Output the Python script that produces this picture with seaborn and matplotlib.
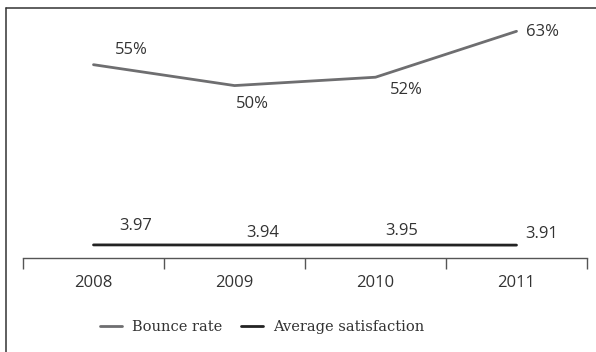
import matplotlib
matplotlib.use("Agg")
import matplotlib.pyplot as plt
from matplotlib.lines import Line2D
import seaborn as sns
import pandas as pd

years = ["2008", "2009", "2010", "2011"]
bounce_rate = [55, 50, 52, 63]
bounce_labels = ["55%", "50%", "52%", "63%"]
avg_satisfaction = [3.97, 3.94, 3.95, 3.91]
sat_labels = ["3.97", "3.94", "3.95", "3.91"]

sns.set_theme(style="white")
plt.rcParams["font.family"] = ["Open Sans", "DejaVu Sans"]

df = pd.DataFrame({"year": years, "bounce": bounce_rate, "sat": avg_satisfaction})

W, H = 596, 352
fig = plt.figure(figsize=(W / 100, H / 100), dpi=100)
fig.patch.set_facecolor("white")
ax_left, ax_right, ax_top, ax_bottom = 23, 587, 10, 258
ax = fig.add_axes([ax_left / W, 1 - ax_bottom / H, (ax_right - ax_left) / W, (ax_bottom - ax_top) / H])
ax2 = ax.twinx()

gray = "#6e6e70"
dark = "#232323"
txt = "#333333"

sns.lineplot(data=df, x="year", y="bounce", ax=ax, color=gray, lw=2.0, sort=False, legend=False)
sns.lineplot(data=df, x="year", y="sat", ax=ax2, color=dark, lw=2.0, sort=False, legend=False)

ax.set_xlim(-0.5, 3.5)
ax.set_ylim(8.7, 68.1)
ax2.set_ylim(0, 75.2)

for a in (ax, ax2):
    a.set_xlabel("")
    a.set_ylabel("")
    a.set_yticks([])
    for s in ("top", "left", "right"):
        a.spines[s].set_visible(False)
    a.patch.set_visible(False)
ax2.spines["bottom"].set_visible(False)
ax.spines["bottom"].set_color("#555555")
ax.spines["bottom"].set_linewidth(1.0)

ax.set_xticks(range(len(years)))
ax.set_xticklabels(years, fontsize=12, color=txt)
ax.set_xticks([-0.5, 0.5, 1.5, 2.5, 3.5], minor=True)
ax.tick_params(axis="x", which="major", bottom=True, length=0, pad=12)
ax.tick_params(axis="x", which="minor", bottom=True, length=8, width=1.0, color="#555555", direction="out")

b_off = [(37.5, 15), (17.5, -18), (31, -13), (26, -1)]
for i, (v, lab) in enumerate(zip(bounce_rate, bounce_labels)):
    ax.annotate(lab, (i, v), xytext=b_off[i], textcoords="offset pixels",
                ha="center", va="center", fontsize=12, color=txt)

s_off = [(42, 19), (28.5, 12), (26, 14), (25, 11)]
for i, (v, lab) in enumerate(zip(avg_satisfaction, sat_labels)):
    ax2.annotate(lab, (i, v), xytext=s_off[i], textcoords="offset pixels",
                 ha="center", va="center", fontsize=12, color=txt)

handles = [Line2D([], [], color=gray, lw=2.0), Line2D([], [], color=dark, lw=2.0)]
leg = fig.legend(handles, ["Bounce rate", "Average satisfaction"], loc="center",
                 bbox_to_anchor=(262 / W, 1 - 327 / H), ncol=2, frameon=False,
                 prop={"family": ["DejaVu Serif"], "size": 10.5}, handlelength=1.5,
                 handletextpad=0.7, columnspacing=1.3)
for t in leg.get_texts():
    t.set_color(txt)

fig.add_artist(Line2D([6 / W, 1.0], [1 - 8 / H, 1 - 8 / H], color="#333333", lw=1.1, transform=fig.transFigure))
fig.add_artist(Line2D([6 / W, 6 / W], [1 - 8 / H, 0], color="#333333", lw=1.1, transform=fig.transFigure))

fig.savefig("out.png", dpi=100)
